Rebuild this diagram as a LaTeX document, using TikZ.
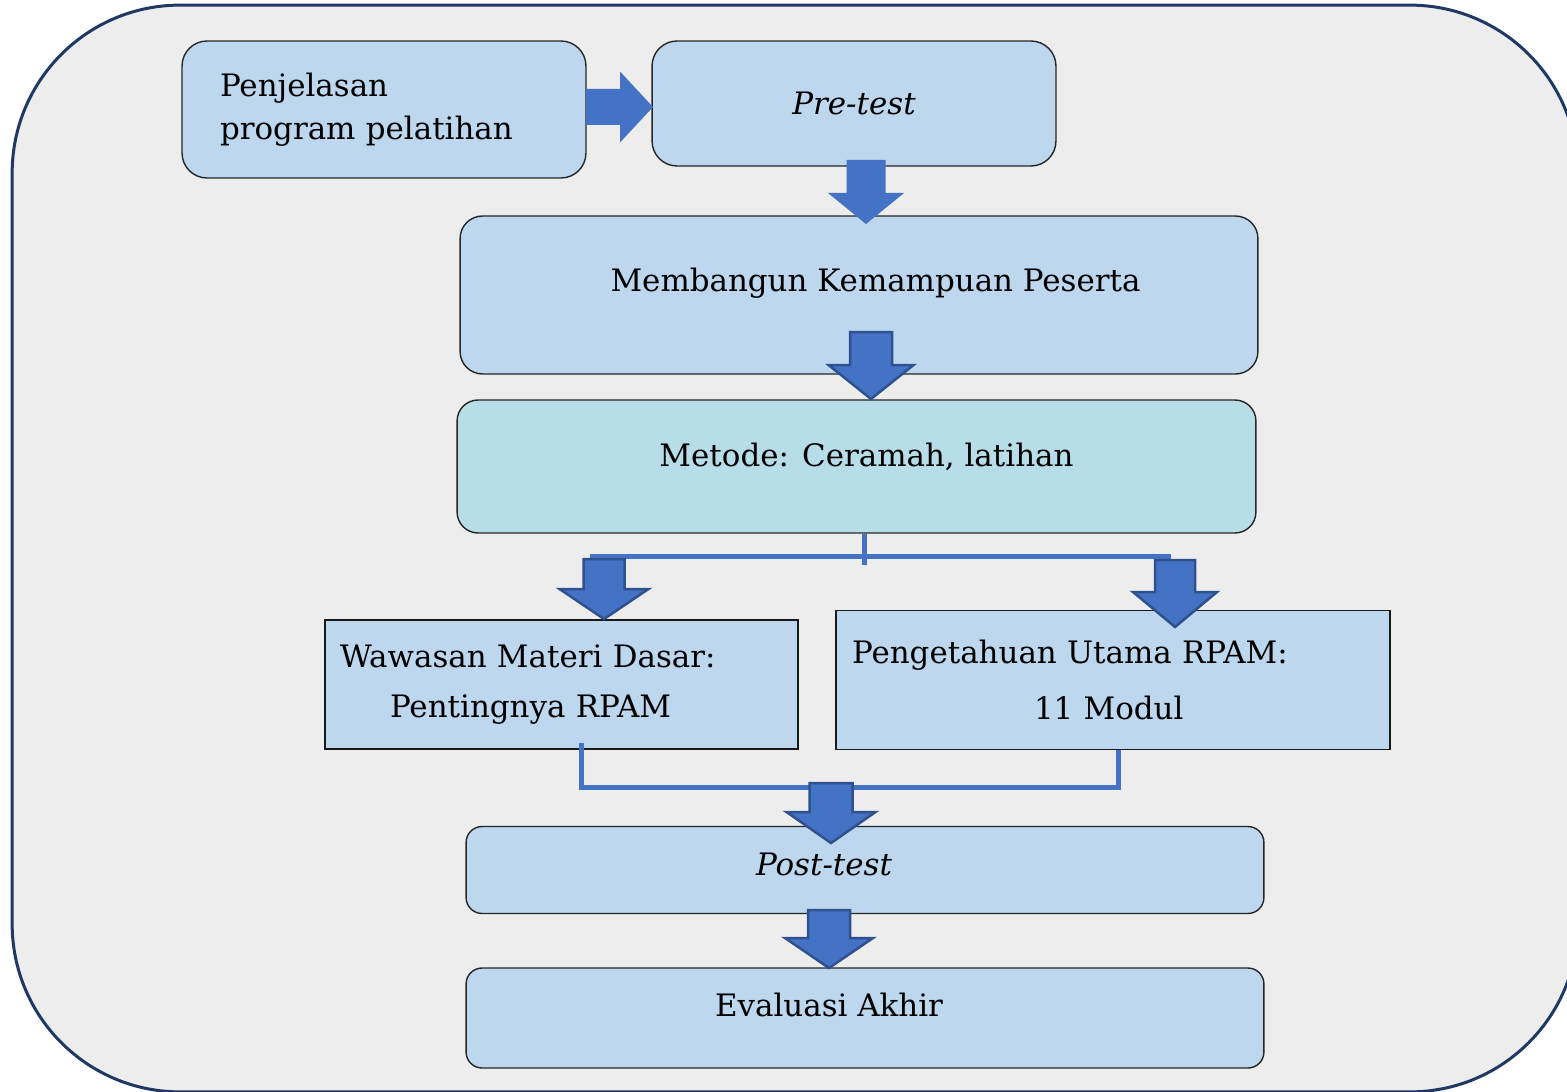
\documentclass[tikz,border=0pt]{standalone}
\usepackage{fontspec}
\setmainfont{DejaVu Serif}
\usetikzlibrary{calc}
\definecolor{panelgray}{HTML}{EDEDED}
\definecolor{panelnavy}{HTML}{1F3864}
\definecolor{boxblue}{HTML}{BDD7EE}
\definecolor{boxteal}{HTML}{B7DEE8}
\definecolor{arrowblue}{HTML}{4472C4}
\definecolor{arrowedge}{HTML}{2F528F}
\tikzset{panel/.style={rectangle,draw=panelnavy,fill=panelgray,line width=0.06cm,rounded corners=3.36cm},
         stage/.style={rectangle,draw=black!85,fill=boxblue,line width=0.8pt,rounded corners=0.5cm,inner sep=0pt},
         flatstage/.style={rectangle,draw=black!90,fill=boxblue,line width=0.8pt,align=left},
         link/.style={draw=arrowblue,line width=0.1cm},
         fat/.style={fill=arrowblue},
         fatedge/.style={fill=arrowblue,draw=arrowedge,line width=0.05cm,line join=miter}}
% block arrows: style, tip, length, head length, half shaft, half head (px units)
\newcommand{\bigdown}[6]{\path[#1] (#2) -- ++(-#6,-#4) -- ++({#6-#5},0) -- ++(0,{-(#3-#4)}) -- ++({2*#5},0) -- ++(0,{#3-#4}) -- ++({#6-#5},0) -- cycle;}
\newcommand{\bigright}[6]{\path[#1] (#2) -- ++(-#4,-#6) -- ++(0,{#6-#5}) -- ++({-(#3-#4)},0) -- ++(0,{2*#5}) -- ++({#3-#4},0) -- ++(0,{#6-#5}) -- cycle;}
\begin{document}
\begin{tikzpicture}[x=0.02cm,y=-0.02cm,font=\fontsize{17.6}{22}\selectfont]
    \useasboundingbox (0,0) rectangle (1567,1091);
    \fill[white] (0,0) rectangle (1567,1091);
    \node (panel) [panel, minimum width=31.32cm, minimum height=21.74cm] at (795,548.5) {};
    % steps
    \node (intro) [stage, minimum width=8.08cm, minimum height=2.74cm, text width=6.56cm, align=left,
                   font=\fontsize{17.6}{24.5}\selectfont] at (384,109.5) {Penjelasan\\program pelatihan};
    \node (pre) [stage, minimum width=8.08cm, minimum height=2.5cm] at (854,103.5) {\textit{Pre-test}};
    \node (build) [stage, rounded corners=0.45cm, minimum width=15.96cm, minimum height=3.16cm,
                   label={[xshift=0.33cm,yshift=0.24cm]center:Membangun Kemampuan Peserta}] at (859,295) {};
    \node (method) [stage, fill=boxteal, rounded corners=0.42cm, minimum width=15.98cm, minimum height=2.66cm,
                    label={[xshift=0.2cm,yshift=0.2cm]center:Metode: Ceramah, latihan}] at (856.5,466.5) {};
    \node (basic) [flatstage, minimum width=9.46cm, minimum height=2.58cm, text width=8.86cm, inner xsep=0.3cm,
                   font=\fontsize{17.6}{28.5}\selectfont] at (561.5,684.5) {Wawasan Materi Dasar:\\\hspace*{1cm}Pentingnya RPAM};
    \node (core) [flatstage, minimum width=11.08cm, minimum height=2.78cm, text width=10.44cm, inner xsep=0.32cm,
                  font=\fontsize{17.6}{32}\selectfont] at (1113,680) {Pengetahuan Utama RPAM:\\\hspace*{3.64cm}11 Modul};
    \node (post) [stage, rounded corners=0.32cm, minimum width=15.96cm, minimum height=1.74cm,
                  label={[xshift=-0.82cm,yshift=0.12cm]center:\textit{Post-test}}] at (865,870) {};
    \node (final) [stage, rounded corners=0.32cm, minimum width=15.96cm, minimum height=2.0cm,
                   label={[xshift=-0.72cm,yshift=0.26cm]center:Evaluasi Akhir}] at (865,1018) {};
    % split and merge lines
    \coordinate (splitL) at (590,556);
    \coordinate (splitR) at (1171,556);
    \draw[link] (864,0 |- method.south) -- (864,565);
    \draw[link] (splitL) -- (splitR);
    \draw[link,line join=miter] (581,743) -- (581,787) -- (1118,787) -- (1118,0 |- core.south);
    % block arrows
    \bigright{fat}{653,107}{67}{33}{18}{35.5}
    \bigdown{fat}{866,224}{64}{31}{19.5}{38}
    \bigdown{fatedge}{871,399}{67}{34}{21}{42.5}
    \bigdown{fatedge}{604,619}{60}{30}{20.5}{44.5}
    \bigdown{fatedge}{1175,627}{67}{35}{20}{42}
    \bigdown{fatedge}{831,843}{60}{31}{21.5}{44.5}
    \bigdown{fatedge}{829,968}{58}{30}{21}{44}
\end{tikzpicture}
\end{document}
